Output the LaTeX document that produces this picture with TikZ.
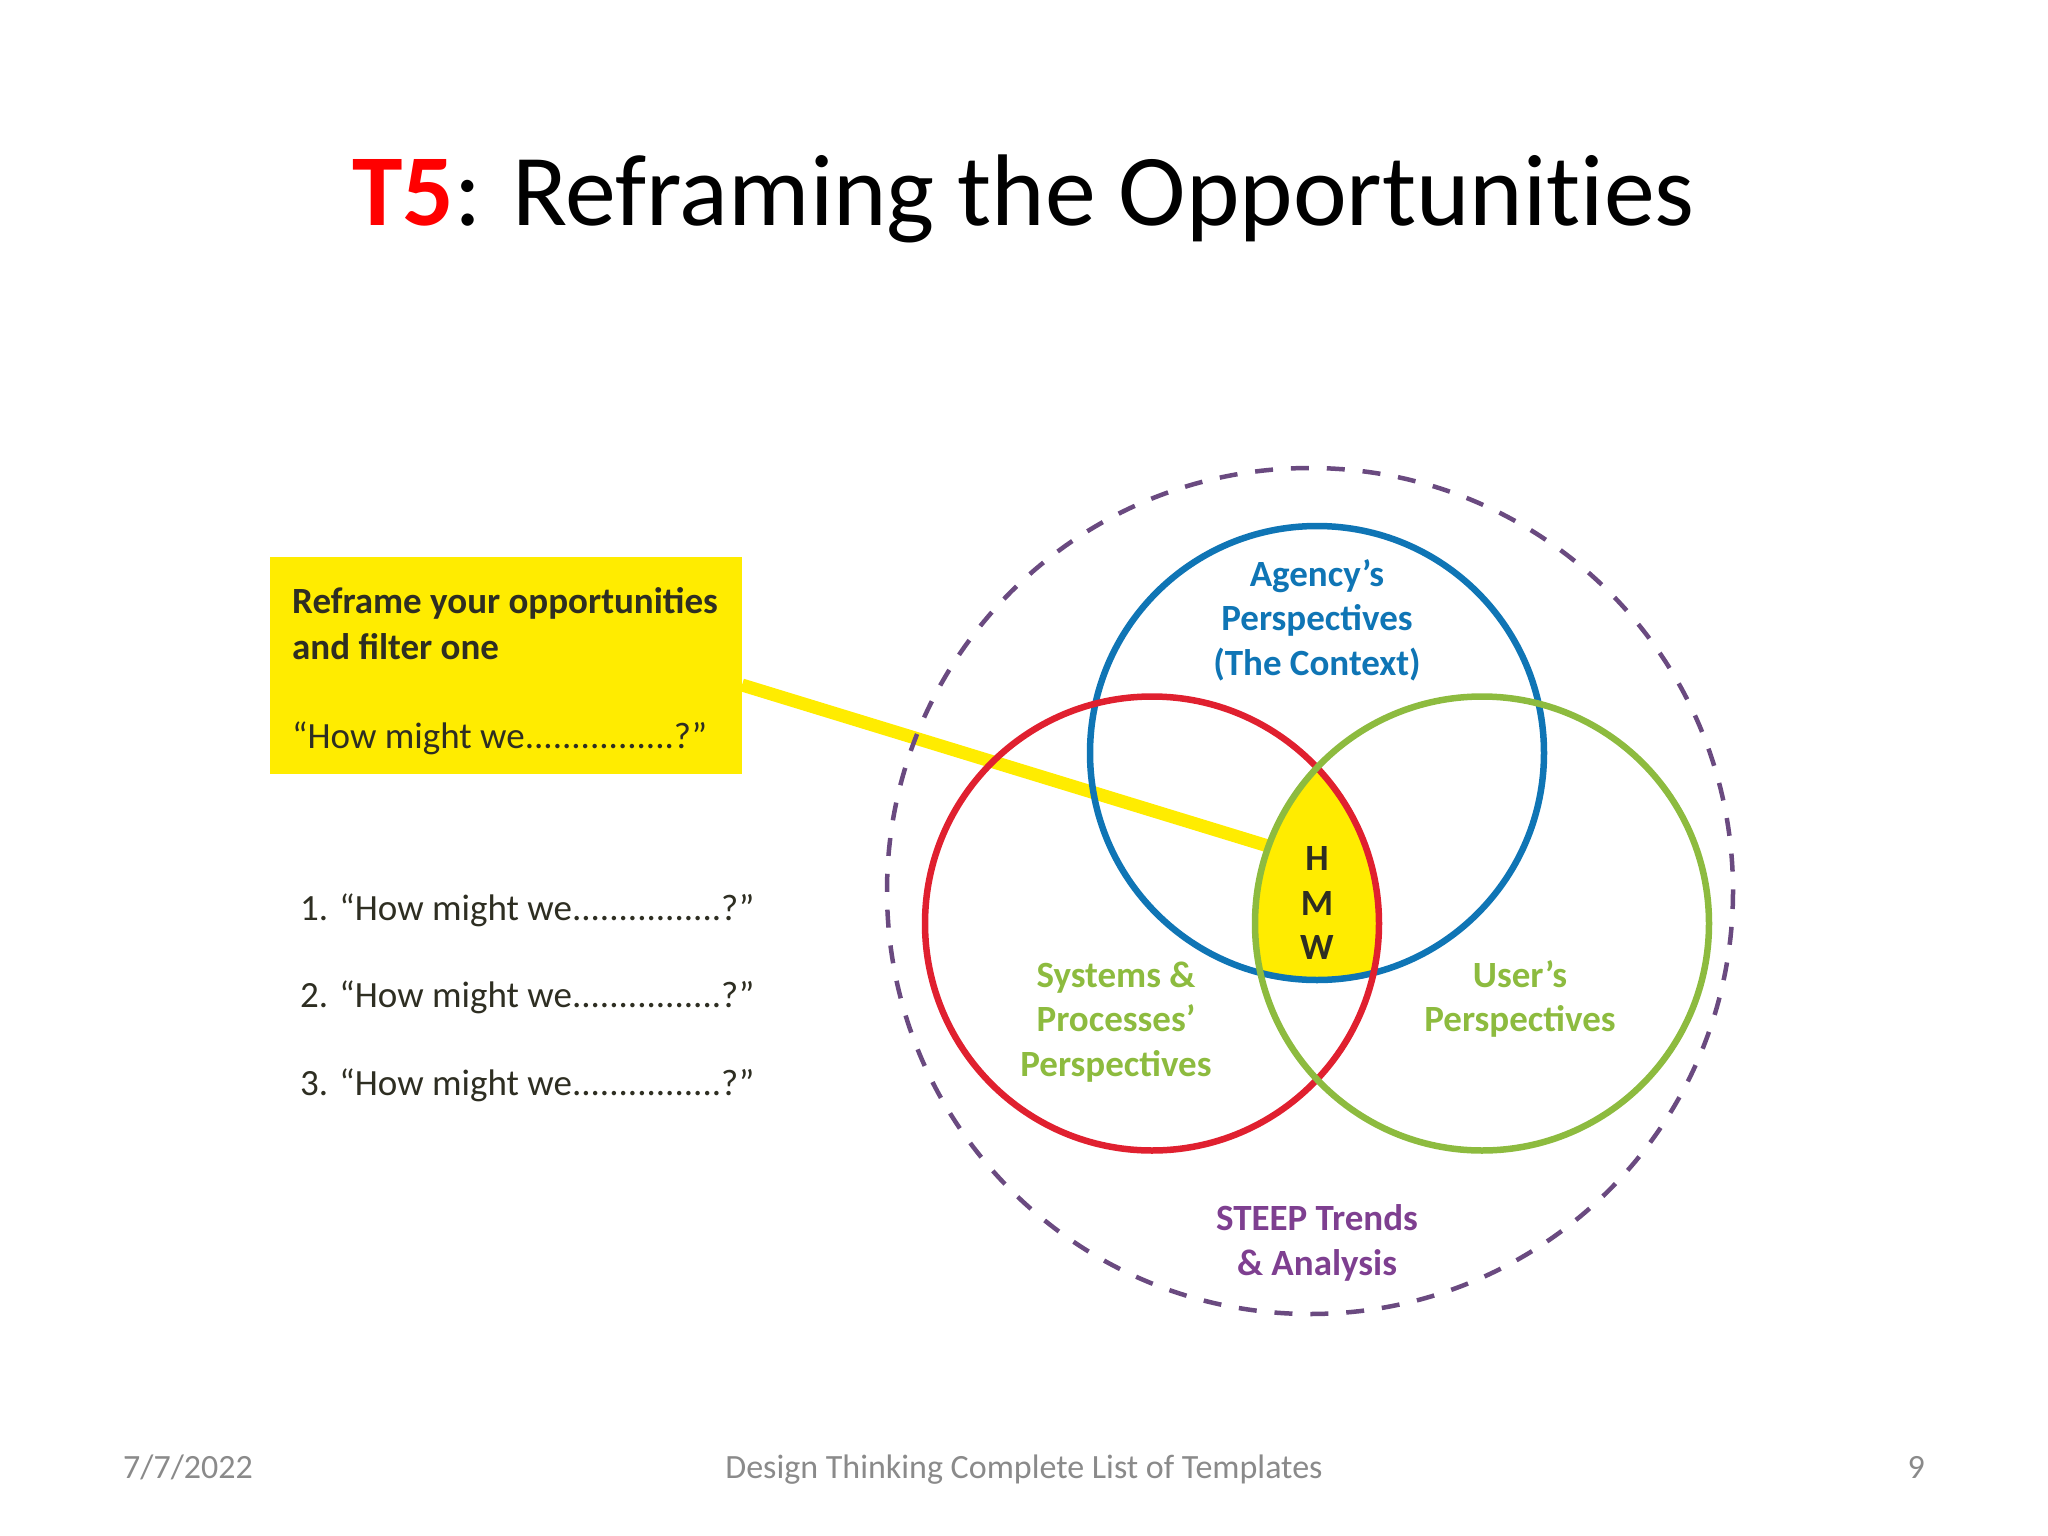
\documentclass[tikz,border=0pt]{standalone}
\usepackage{fontspec}
\setmainfont{Carlito}
\definecolor{hblue}{HTML}{0F75B5}
\definecolor{hred}{HTML}{E0202F}
\definecolor{hgreen}{HTML}{8DBB3F}
\definecolor{hpurple}{HTML}{7E3F90}
\definecolor{hdash}{HTML}{6A4A80}
\definecolor{hyellow}{HTML}{FFEC00}
\definecolor{htext}{HTML}{2E2E22}
\definecolor{hfoot}{HTML}{8A8A8A}
\tikzset{
  venn/.style={line width=6.5pt,draw},
  lab/.style={align=center,font=\fontsize{37}{44.5}\selectfont\bfseries,inner sep=0pt},
  item/.style={anchor=west,font=\fontsize{37}{44}\selectfont,text=htext,inner sep=0pt},
  foot/.style={font=\fontsize{34}{40}\selectfont,text=hfoot,inner sep=0pt},
}
\begin{document}
\begin{tikzpicture}[x=1pt,y=-1pt]
\useasboundingbox (0,0) rectangle (2048,1536);
\node[inner sep=0pt,font=\fontsize{101.8}{118}\selectfont] (title) at (1023.5,199) {\textcolor{red}{\textbf{T5}}: Reframing the Opportunit\kern0pt ies};
% yellow intersection
\begin{scope}
\clip (1152,923.5) circle (227);
\clip (1482,923.5) circle (227);
\fill[hyellow] (1317,753) circle (227);
\end{scope}
% connector box
\node[fill=hyellow,minimum width=472pt,minimum height=217pt,inner sep=0pt] (box) at (506,665.5) {};
\coordinate (hmwedge) at (1268,846);
\coordinate (boxedge) at (742,685);
\draw[hyellow,line width=13pt] (boxedge) -- (hmwedge);
% circles
\draw[hdash,line width=4.5pt,dash pattern=on 18pt off 17.9pt] (1310,891) circle (423);
\draw[venn,hblue] (1317,753) circle (227);
\draw[venn,hred] (1152,923.5) circle (227);
\draw[venn,hgreen] (1482,923.5) circle (227);
% box text
\node[anchor=west,inner sep=0pt,font=\fontsize{37}{44.5}\selectfont\bfseries,text=htext] (b1) at (292,603) {Reframe your opportunities};
\node[anchor=west,inner sep=0pt,font=\fontsize{37}{44.5}\selectfont\bfseries,text=htext] (b2) at (292,647) {and filter one};
\node[item] (b3) at (292,738) {“How might we................?”};
\node[item] (l1) at (300,910) {1. “How might we................?”};
\node[item] (l2) at (300,997) {2. “How might we................?”};
\node[item] (l3) at (300,1085) {3. “How might we................?”};
% labels
\node[lab,text=hblue] (agency) at (1317,620) {Agency’s\\Perspectives\\(The Context)};
\node[lab,text=hgreen] (systems) at (1116,1022) {Systems \&\\Processes’\\Perspectives};
\node[lab,text=hgreen] (users) at (1520,999) {User’s\\Perspectives};
\node[lab,text=hpurple] (steep) at (1317,1243) {STEEP Trends\\\& Analysis};
\node[lab,text=htext] (hmw) at (1317,903) {H\\M\\W};
% footer
\node[foot,anchor=base west] (date) at (123,1478) {7/7/2022};
\node[foot,anchor=base] (ftitle) at (1024,1478) {Design Thinking Complete List of Templates};
\node[foot,anchor=base east] (page) at (1925,1478) {9};
\end{tikzpicture}
\end{document}
